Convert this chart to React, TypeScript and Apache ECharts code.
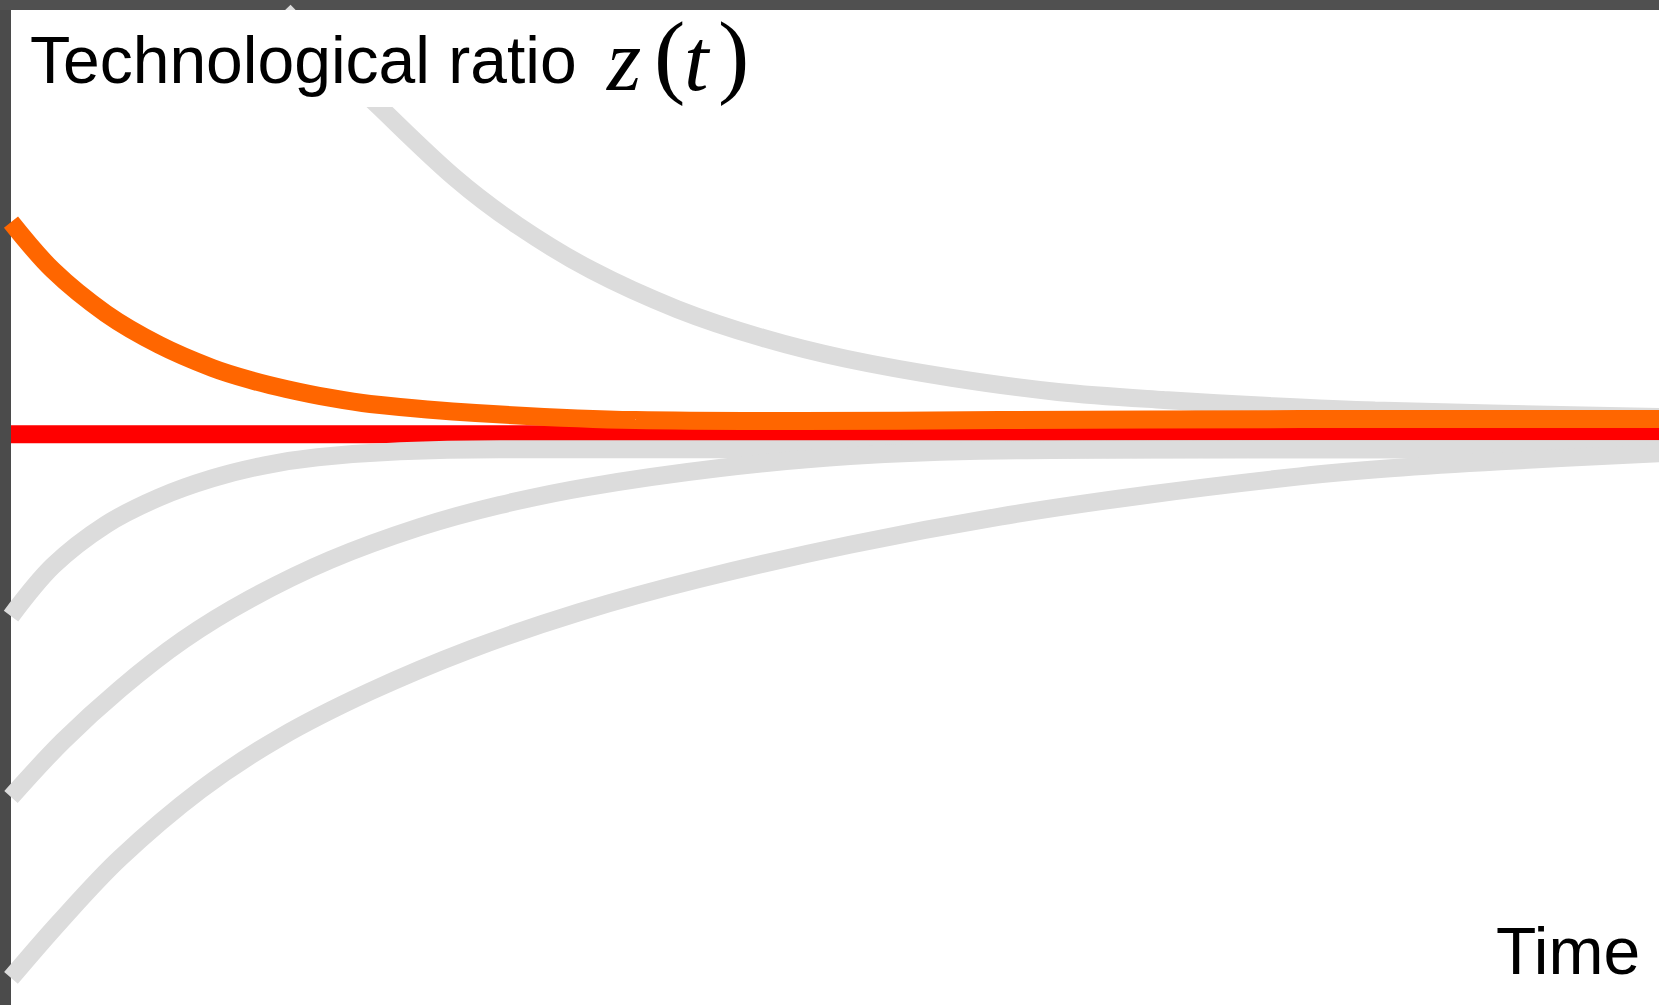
import React, { useEffect, useRef } from "react";
import * as echarts from "echarts";

// Time (0..100) and technological ratio z (0..100, arbitrary units) for each trajectory
const steadyTime = [0, 25, 50, 75, 100];
const steadyZ = [56.8, 56.8, 56.8, 56.8, 56.8];

const highlightTime = [0, 2.55, 5.76, 8.98, 12.2, 14.5, 16.7, 19.4, 21.8, 28.2, 37.9, 47.9, 60.0, 78.2, 100];
const highlightZ = [77.9, 73.1, 68.8, 65.7, 63.4, 62.2, 61.3, 60.4, 59.8, 58.9, 58.2, 58.1, 58.2, 58.3, 58.3];

const upperTime = [16.57, 19.36, 22.33, 26.94, 30.76, 35.25, 40.41, 45.57, 50.67, 57.1, 63.53, 69.96, 76.4, 82.77, 100];
const upperZ = [98.9, 94.2, 89.4, 82.3, 77.55, 73.1, 69.25, 66.4, 64.3, 62.4, 61.0, 60.2, 59.6, 59.15, 58.5];

const lowA_Time = [0, 2.55, 5.76, 8.98, 12.2, 15.4, 18.6, 23.6, 29.7, 41.8, 60.0, 100];
const lowA_Z = [38.7, 43.7, 47.8, 50.5, 52.4, 53.7, 54.5, 55.1, 55.3, 55.3, 55.3, 55.3];

const lowB_Time = [0, 3.16, 6.61, 10.44, 14.5, 19.36, 24.82, 29.67, 34.95, 43.02, 50.91, 60.01, 76.4, 100];
const lowB_Z = [20.7, 26.27, 31.44, 36.32, 40.4, 44.28, 47.56, 49.75, 51.54, 53.43, 54.63, 55.17, 55.3, 55.3];

const lowC_Time = [0, 2.97, 6.61, 11.5, 16.3, 21.8, 27.9, 34.5, 41.8, 50.9, 60.0, 69.1, 78.2, 83.7, 90.4, 100];
const lowC_Z = [2.7, 8.3, 14.6, 21.4, 26.6, 31.2, 35.4, 39.1, 42.4, 45.8, 48.6, 50.8, 52.6, 53.4, 54.1, 54.9];

const yTitle = "Technological ratio";
const xTitle = "Time";

const zip = (t: number[], z: number[]) => t.map((v, i) => [v, z[i]]);

const GRAY = "#dcdcdc";

function line(name: string, t: number[], z: number[], color: string) {
  return {
    name,
    type: "line",
    data: zip(t, z),
    smooth: 0.33,
    symbol: "none",
    clip: false,
    silent: true,
    lineStyle: { color, width: 18, cap: "butt" },
  };
}

export default function App() {
  const ref = useRef<HTMLDivElement>(null);
  useEffect(() => {
    if (!ref.current) return;
    const chart = echarts.init(ref.current, null, { renderer: "svg" });
    const sans = '"Liberation Sans", Arial, Helvetica, sans-serif';
    const serif = '"Liberation Serif", "Times New Roman", serif';
    chart.setOption({
      animation: false,
      backgroundColor: "#ffffff",
      grid: { left: 11, right: 0, top: 0, bottom: 0 },
      xAxis: {
        type: "value",
        min: 0,
        max: 100,
        show: false,
      },
      yAxis: {
        type: "value",
        min: 0,
        max: 100,
        show: false,
      },
      series: [
        line("steady", steadyTime, steadyZ, "#ff0000"),
        line("upper", upperTime, upperZ, GRAY),
        line("lowA", lowA_Time, lowA_Z, GRAY),
        line("lowB", lowB_Time, lowB_Z, GRAY),
        line("lowC", lowC_Time, lowC_Z, GRAY),
        line("highlight", highlightTime, highlightZ, "#ff6600"),
      ],
      graphic: [
        { type: "rect", z: 0, shape: { x: 0, y: 0, width: 11, height: 1005 }, style: { fill: "#4b4b4b" }, silent: true },
        { type: "rect", z: 0, shape: { x: 0, y: 0, width: 1659, height: 10 }, style: { fill: "#505050" }, silent: true },
        { type: "rect", z: 10, shape: { x: 11, y: 10, width: 666, height: 97 }, style: { fill: "#ffffff" }, silent: true },
        {
          type: "text", z: 11, x: 30, y: 60,
          style: { text: yTitle, font: `66px ${sans}`, fill: "#000", textAlign: "left", textVerticalAlign: "middle" },
        },
        {
          type: "text", z: 11, x: 607, y: 60,
          style: { text: "z", font: `italic 88px ${serif}`, fill: "#000", textAlign: "left", textVerticalAlign: "middle" },
        },
        {
          type: "text", z: 11, x: 654, y: 54,
          style: { text: "(", font: `94px ${serif}`, fill: "#000", textAlign: "left", textVerticalAlign: "middle" },
        },
        {
          type: "text", z: 11, x: 684, y: 60,
          style: { text: "t", font: `italic 88px ${serif}`, fill: "#000", textAlign: "left", textVerticalAlign: "middle" },
        },
        {
          type: "text", z: 11, x: 718, y: 54,
          style: { text: ")", font: `94px ${serif}`, fill: "#000", textAlign: "left", textVerticalAlign: "middle" },
        },
        {
          type: "text", z: 11, x: 1496, y: 951,
          style: { text: xTitle, font: `66px ${sans}`, fill: "#000", textAlign: "left", textVerticalAlign: "middle" },
        },
      ],
    });
    return () => chart.dispose();
  }, []);
  return (
    <div
      ref={ref}
      style={{ position: "fixed", left: 0, top: 0, width: 1659, height: 1005, background: "#fff" }}
    />
  );
}
